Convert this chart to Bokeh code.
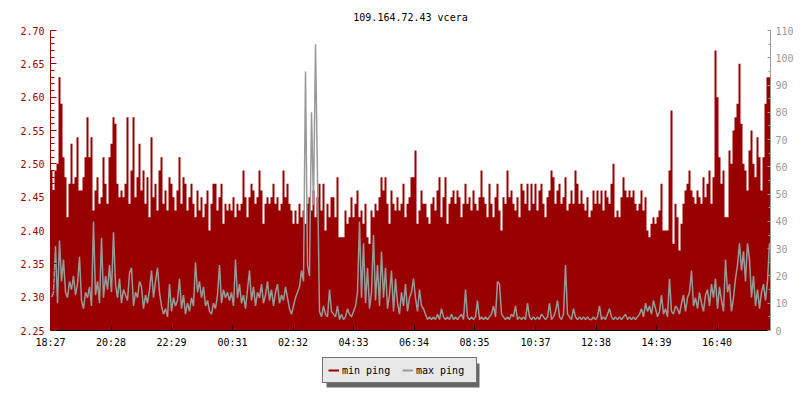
from bokeh.plotting import figure
from bokeh.layouts import column
from bokeh.models import (Range1d, LinearAxis, FixedTicker, Legend, LegendItem,
                          PrintfTickFormatter, BoxAnnotation)
from bokeh.embed import file_html
from bokeh.resources import INLINE

title_text = "109.164.72.43 vcera"
start_time = "18:27"
step_minutes = 4
x_tick_labels = ["18:27", "20:28", "22:29", "00:31", "02:32", "04:33",
                 "06:34", "08:35", "10:37", "12:38", "14:39", "16:40"]
left_ticks = [2.25, 2.30, 2.35, 2.40, 2.45, 2.50, 2.55, 2.60, 2.65, 2.70]
right_ticks = [0, 10, 20, 30, 40, 50, 60, 70, 80, 90, 100, 110]
series_names = ["min ping", "max ping"]

# min ping (ms), left axis
min_ping = [
    2.49, 2.46, 2.49, 2.50, 2.63, 2.59, 2.51, 2.48, 2.42, 2.47,
    2.53, 2.47, 2.48, 2.54, 2.46, 2.46, 2.48, 2.51, 2.57, 2.51,
    2.54, 2.43, 2.46, 2.48, 2.44, 2.45, 2.51, 2.47, 2.44, 2.51,
    2.53, 2.57, 2.56, 2.47, 2.45, 2.46, 2.45, 2.47, 2.57, 2.44,
    2.49, 2.57, 2.45, 2.48, 2.53, 2.46, 2.49, 2.44, 2.48, 2.42,
    2.54, 2.45, 2.47, 2.43, 2.49, 2.51, 2.44, 2.46, 2.43, 2.48,
    2.47, 2.45, 2.43, 2.46, 2.51, 2.44, 2.48, 2.47, 2.43, 2.45,
    2.47, 2.44, 2.42, 2.46, 2.43, 2.45, 2.42, 2.44, 2.46, 2.40,
    2.44, 2.47, 2.47, 2.43, 2.45, 2.47, 2.41, 2.44, 2.43, 2.44,
    2.43, 2.45, 2.42, 2.44, 2.43, 2.44, 2.49, 2.45, 2.42, 2.45,
    2.47, 2.46, 2.44, 2.45, 2.49, 2.46, 2.41, 2.44, 2.45, 2.44,
    2.45, 2.47, 2.44, 2.45, 2.43, 2.44, 2.49, 2.45, 2.47, 2.44,
    2.43, 2.41, 2.43, 2.41, 2.44, 2.42, 2.43, 2.41, 2.44, 2.45,
    2.43, 2.46, 2.42, 2.45, 2.47, 2.43, 2.47, 2.40, 2.44, 2.42,
    2.45, 2.45, 2.42, 2.48, 2.39, 2.39, 2.39, 2.43, 2.41, 2.42,
    2.45, 2.42, 2.44, 2.46, 2.42, 2.43, 2.41, 2.44, 2.39, 2.38,
    2.43, 2.42, 2.44, 2.43, 2.45, 2.48, 2.46, 2.48, 2.44, 2.41,
    2.46, 2.44, 2.43, 2.45, 2.43, 2.44, 2.47, 2.42, 2.44, 2.45,
    2.48, 2.48, 2.52, 2.41, 2.43, 2.46, 2.44, 2.44, 2.42, 2.41,
    2.44, 2.45, 2.43, 2.46, 2.48, 2.42, 2.45, 2.48, 2.41, 2.44,
    2.45, 2.46, 2.44, 2.46, 2.45, 2.42, 2.44, 2.47, 2.44, 2.45,
    2.43, 2.46, 2.44, 2.43, 2.45, 2.49, 2.45, 2.44, 2.42, 2.47,
    2.44, 2.42, 2.45, 2.47, 2.43, 2.40, 2.45, 2.44, 2.49, 2.45,
    2.46, 2.44, 2.43, 2.45, 2.42, 2.47, 2.46, 2.44, 2.47, 2.43,
    2.47, 2.44, 2.47, 2.43, 2.46, 2.47, 2.44, 2.42, 2.45, 2.46,
    2.49, 2.48, 2.44, 2.46, 2.47, 2.44, 2.45, 2.48, 2.43, 2.44,
    2.46, 2.44, 2.49, 2.47, 2.44, 2.46, 2.44, 2.43, 2.45, 2.42,
    2.43, 2.46, 2.44, 2.46, 2.44, 2.46, 2.43, 2.46, 2.45, 2.44,
    2.47, 2.50, 2.42, 2.43, 2.42, 2.45, 2.48, 2.46, 2.45, 2.46,
    2.45, 2.46, 2.44, 2.43, 2.44, 2.46, 2.43, 2.45, 2.40, 2.39,
    2.41, 2.42, 2.41, 2.42, 2.43, 2.47, 2.40, 2.40, 2.40, 2.49,
    2.58, 2.38, 2.44, 2.42, 2.37, 2.41, 2.44, 2.46, 2.47, 2.49,
    2.46, 2.45, 2.44, 2.46, 2.45, 2.44, 2.48, 2.45, 2.47, 2.49,
    2.44, 2.48, 2.67, 2.60, 2.51, 2.47, 2.49, 2.42, 2.42, 2.52,
    2.50, 2.55, 2.57, 2.59, 2.65, 2.56, 2.50, 2.49, 2.46, 2.52,
    2.55, 2.50, 2.48, 2.54, 2.51, 2.46, 2.51, 2.59, 2.63, 2.63,
]

# max ping (ms), right axis
max_ping = [
    12, 14, 31, 10, 33, 18, 26, 14, 12, 18,
    15, 20, 13, 17, 27, 11, 8, 14, 12, 16,
    9, 40, 13, 18, 10, 34, 12, 20, 15, 24,
    14, 36, 17, 12, 19, 10, 15, 13, 11, 21,
    23, 9, 14, 12, 18, 16, 8, 13, 10, 15,
    22, 12, 18, 23, 14, 9, 6, 8, 5, 17,
    7, 12, 9, 11, 19, 8, 13, 6, 10, 7,
    12, 9, 25, 14, 18, 12, 16, 9, 11, 7,
    6, 10, 8, 13, 24, 10, 15, 12, 14, 11,
    14, 9, 26, 12, 17, 10, 13, 8, 15, 22,
    11, 16, 9, 14, 12, 17, 10, 13, 18, 11,
    15, 9, 14, 17, 10, 13, 11, 16, 12, 8,
    6, 9, 12, 14, 16, 22, 18, 95, 24, 20,
    80, 46, 105, 56, 7, 5, 9, 6, 5, 15,
    7, 6, 5, 9, 4, 6, 4, 5, 8, 6,
    5, 7, 9, 14, 40, 12, 32, 10, 23, 8,
    14, 35, 11, 24, 9, 29, 12, 23, 8, 13,
    22, 7, 19, 10, 6, 14, 9, 17, 7, 12,
    14, 19, 12, 7, 15, 9, 8, 6, 4, 5,
    4, 5, 4, 6, 4, 8, 5, 4, 5, 4,
    6, 4, 5, 4, 5, 6, 4, 15, 5, 4,
    5, 4, 5, 11, 4, 5, 4, 5, 4, 5,
    6, 9, 5, 18, 17, 6, 5, 4, 5, 4,
    6, 5, 9, 4, 5, 4, 5, 4, 10, 5,
    4, 5, 4, 5, 4, 6, 5, 4, 5, 10,
    4, 5, 7, 11, 5, 4, 6, 24, 6, 5,
    4, 8, 5, 4, 5, 4, 5, 4, 5, 4,
    4, 5, 4, 5, 9, 4, 5, 4, 6, 8,
    5, 4, 5, 4, 5, 4, 5, 6, 4, 5,
    4, 5, 4, 5, 6, 8, 5, 10, 7, 9,
    6, 11, 8, 5, 7, 13, 6, 8, 5, 19,
    7, 6, 9, 8, 6, 10, 13, 7, 12, 14,
    22, 9, 12, 8, 14, 10, 7, 13, 15, 9,
    17, 12, 19, 8, 16, 11, 7, 26, 14, 17,
    7, 12, 19, 24, 32, 22, 29, 18, 32, 26,
    12, 20, 9, 15, 8, 14, 17, 11, 18, 32,
]

RED = "#990000"
GRAY = "#999999"
FONT = "DejaVu Sans Mono"


def minutes(label):
    h, m = label.split(":")
    sh, sm = start_time.split(":")
    return ((int(h) * 60 + int(m)) - (int(sh) * 60 + int(sm))) % 1440


n = len(min_ping)
span = n * step_minutes
x_edges = [i * step_minutes for i in range(n + 1)]
x_mid = [i * step_minutes + step_minutes / 2 for i in range(n)]

p = figure(frame_width=720, frame_height=300,
           min_border_left=50, min_border_right=30, min_border_top=30,
           min_border_bottom=20,
           x_range=Range1d(0, span), y_range=Range1d(left_ticks[0], left_ticks[-1]),
           output_backend="svg", toolbar_location=None, tools="",
           title=title_text, x_axis_type=None, y_axis_type=None)
p.background_fill_color = "white"
p.border_fill_color = "white"
p.outline_line_color = None
p.title.align = "center"
p.title.text_font = FONT
p.title.text_font_size = "10px"
p.title.text_font_style = "normal"
p.title.text_color = "black"
p.title.standoff = 16

p.extra_y_ranges = {"ms": Range1d(right_ticks[0], right_ticks[-1])}

# axes
xt = [minutes(t) for t in x_tick_labels]
xaxis = LinearAxis(ticker=FixedTicker(ticks=xt, minor_ticks=[]))
xaxis.major_label_overrides = {t: l for t, l in zip(xt, x_tick_labels)}
xaxis.axis_line_color = "black"
xaxis.major_tick_line_color = "black"
xaxis.major_tick_in = 5
xaxis.major_tick_out = 0
xaxis.minor_tick_line_color = None
xaxis.major_label_text_font = FONT
xaxis.major_label_text_font_size = "10px"
xaxis.major_label_text_color = "black"
xaxis.major_label_standoff = 6
p.add_layout(xaxis, "below")

minor_left = [round(left_ticks[0] + 0.01 * k, 2) for k in range(46)]
laxis = LinearAxis(ticker=FixedTicker(ticks=left_ticks, minor_ticks=minor_left),
                   formatter=PrintfTickFormatter(format="%.2f"))
laxis.axis_line_color = RED
laxis.major_tick_line_color = RED
laxis.minor_tick_line_color = RED
laxis.major_tick_in = 6
laxis.major_tick_out = 0
laxis.minor_tick_in = 4
laxis.minor_tick_out = 0
laxis.major_label_text_font = FONT
laxis.major_label_text_font_size = "10px"
laxis.major_label_text_color = RED
laxis.major_label_standoff = 6
p.add_layout(laxis, "left")

minor_right = list(range(right_ticks[0], right_ticks[-1] + 1, 5))
raxis = LinearAxis(y_range_name="ms",
                   ticker=FixedTicker(ticks=right_ticks, minor_ticks=minor_right))
raxis.axis_line_color = GRAY
raxis.major_tick_line_color = GRAY
raxis.minor_tick_line_color = GRAY
raxis.major_tick_in = 3
raxis.major_tick_out = 0
raxis.minor_tick_in = 2
raxis.minor_tick_out = 0
raxis.major_label_text_font = FONT
raxis.major_label_text_font_size = "10px"
raxis.major_label_text_color = GRAY
raxis.major_label_standoff = 5
p.add_layout(raxis, "right")

p.ygrid.ticker = FixedTicker(ticks=left_ticks)
p.ygrid.grid_line_color = "#c0c0c0"
p.ygrid.grid_line_width = 1
p.xgrid.grid_line_color = None

# data
p.varea_step(x=x_edges, y1=[left_ticks[0]] * (n + 1), y2=min_ping + [min_ping[-1]],
             step_mode="after", fill_color=RED)
p.line(x=x_mid, y=max_ping, y_range_name="ms",
       line_color=GRAY, line_width=1.5)

# legend figure below the chart (its frame is aligned with the chart's frame)
lf = figure(width=800, height=50, min_border=0, output_backend="svg",
            toolbar_location=None, tools="", x_axis_type=None, y_axis_type=None,
            x_range=Range1d(0, 720), y_range=Range1d(50, 0))
lf.outline_line_color = None
lf.background_fill_color = "white"
lf.border_fill_color = "white"
r_min = lf.line(x=[x_mid[0]], y=[min_ping[0]], line_color=RED, line_width=2)
r_max = lf.line(x=[x_mid[0]], y=[max_ping[0]], line_color=GRAY, line_width=2)

# drop shadow of the legend box (pixel coordinates inside the legend strip)
lf.add_layout(BoxAnnotation(left=276, right=429, top=13, bottom=37,
                            fill_color="#666666", fill_alpha=1, line_color=None,
                            level="annotation"))

legend = Legend(items=[LegendItem(label=series_names[0], renderers=[r_min], index=0),
                       LegendItem(label=series_names[1], renderers=[r_max], index=0)],
                orientation="horizontal", location=(272, 17))
legend.background_fill_color = "#e8e8e8"
legend.background_fill_alpha = 1
legend.border_line_color = "black"
legend.border_line_width = 1
legend.label_text_font = FONT
legend.label_text_font_size = "10px"
legend.label_text_color = "black"
legend.glyph_width = 11
legend.glyph_height = 14
legend.label_height = 14
legend.label_width = 55
legend.label_standoff = 3
legend.spacing = 5
legend.padding = 5
legend.margin = 0
lf.add_layout(legend, "center")

layout = column(p, lf, spacing=0)
open("out.html", "w").write(file_html(layout, INLINE))
